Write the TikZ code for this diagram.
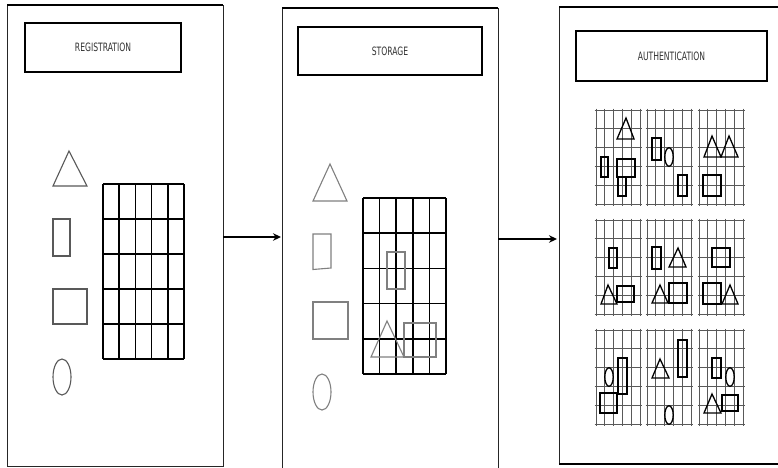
\documentclass[tikz,border=0pt]{standalone}
\usepackage{fontspec}
\newfontfamily\lblfont{DejaVu Sans Condensed}
\usetikzlibrary{arrows.meta}
\tikzset{
  panel/.style={draw=black!85, line width=1pt},
  paneltop/.style={draw=black, line width=1.8pt},
  titlebox/.style={draw=black, line width=1.3pt, font=\lblfont\fontsize{11.5}{12}\selectfont, text=black!80, inner sep=0pt},
  bigshape/.style={draw=black!65, line width=1.1pt},
  grayshape/.style={draw=black!50, line width=1.1pt},
  biggrid/.style={draw=black, line width=1.5pt},
  smallgrid/.style={draw=black!65, line width=0.9pt},
  minishape/.style={draw=black, line width=1.3pt},
  flow/.style={-{Stealth[length=8pt,width=7.5pt]}, line width=1.5pt}
}
\newcommand\narrow[1]{\scalebox{0.74}[1]{#1}}
\newcommand\minigrid{%
  \foreach \i in {0,...,5} {%
    \draw[smallgrid] (\i*8.8,-1.5) -- (\i*8.8,95.5);
    \draw[smallgrid] (-1.5,\i*18.8) -- (45.5,\i*18.8);
  }%
}
\newcommand\mtri[5]{\draw[minishape] (#1,#2) -- (#4,#5) -- (#3,#5) -- cycle;}
\newcommand\mrect[4]{\draw[minishape] (#1,#2) rectangle (#3,#4);}
\newcommand\mell[2]{\draw[minishape] (#1,#2) ellipse [x radius=4.2, y radius=9.3];}
\begin{document}
\begin{tikzpicture}[x=1pt,y=-1pt]
\useasboundingbox (0,0) rectangle (778,467);
\fill[white] (0,0) rectangle (778,467);

% ---------- panel 1 ----------
\draw[panel] (7,5) -- (7,466) -- (223,466) -- (223,5);
\draw[paneltop] (7,5) -- (223,5);
\node[titlebox, minimum width=156pt, minimum height=49pt] (reg) at (103,47.5) {\narrow{REGISTRATION}};
\draw[bigshape] (69,151) -- (87,186) -- (53,186) -- cycle;
\draw[bigshape] (53,219) rectangle (70,256);
\draw[bigshape] (53,289) rectangle (87,324);
\draw[bigshape] (62,377) ellipse [x radius=9, y radius=18];
\foreach \i in {0,...,5} {
  \draw[biggrid] (103+\i*16.2,184) -- (103+\i*16.2,359);
  \draw[biggrid] (103,184+\i*35) -- (184,184+\i*35);
}

% ---------- panel 2 ----------
\draw[panel] (282,470) -- (282,8) -- (498,8) -- (498,470);
\draw[paneltop] (282,8) -- (498,8);
\node[titlebox, minimum width=184pt, minimum height=48pt] (sto) at (390,51) {\narrow{STORAGE}};
\draw[grayshape] (330,164) -- (347,201) -- (313,201) -- cycle;
\draw[grayshape] (313,234) -- (331,234) -- (331,268) -- (313,269.5) -- cycle;
\draw[grayshape] (313,302) rectangle (348,339);
\draw[grayshape] (322,392) ellipse [x radius=9, y radius=18];
\foreach \i in {0,...,5} {
  \draw[biggrid] (363+\i*16.6,198) -- (363+\i*16.6,374);
  \draw[biggrid] (363,198+\i*35.2) -- (446,198+\i*35.2);
}
\draw[grayshape] (387,252) rectangle (405,289);
\draw[grayshape] (387,321) -- (404,357) -- (371,357) -- cycle;
\draw[grayshape] (404,323) rectangle (436,357);

% ---------- panel 3 ----------
\draw[panel] (790,464) -- (559,464) -- (559,7) -- (790,7);
\draw[paneltop] (559,7) -- (790,7);
\draw[paneltop] (559,464) -- (790,464);
\node[titlebox, minimum width=191pt, minimum height=50pt] (aut) at (671.5,56) {\narrow{AUTHENTICATION}};

\begin{scope}[shift={(596,110)}]
  \minigrid
  \mtri{30}{8}{21}{38}{29}
  \mrect{5}{47}{12}{67}
  \mrect{21}{49}{39}{67}
  \mrect{22}{67}{30}{86}
\end{scope}
\begin{scope}[shift={(647,110)}]
  \minigrid
  \mrect{5}{28}{14}{50}
  \mell{22}{47}
  \mrect{31}{65}{40}{86}
\end{scope}
\begin{scope}[shift={(699,110)}]
  \minigrid
  \mtri{13}{26}{5}{22}{47}
  \mtri{30}{26}{22}{39}{47}
  \mrect{4}{65}{22}{86}
\end{scope}

\begin{scope}[shift={(596,220)}]
  \minigrid
  \mrect{13}{28}{21}{48}
  \mtri{12}{65}{5}{21}{84}
  \mrect{21}{66}{38}{82}
\end{scope}
\begin{scope}[shift={(647,220)}]
  \minigrid
  \mrect{5}{27}{14}{49}
  \mtri{31}{28}{22}{39}{47}
  \mtri{13}{65}{5}{21}{83}
  \mrect{22}{63}{40}{83}
\end{scope}
\begin{scope}[shift={(699,220)}]
  \minigrid
  \mrect{13}{28}{31}{47}
  \mrect{4}{63}{22}{84}
  \mtri{31}{65}{23}{39}{84}
\end{scope}

\begin{scope}[shift={(596,330)}]
  \minigrid
  \mell{13}{47}
  \mrect{22}{28}{31}{64}
  \mrect{4}{63}{21}{83}
\end{scope}
\begin{scope}[shift={(647,330)}]
  \minigrid
  \mtri{13}{29}{5}{22}{48}
  \mrect{31}{10}{40}{47}
  \mell{22}{85}
\end{scope}
\begin{scope}[shift={(699,330)}]
  \minigrid
  \mrect{13}{28}{22}{48}
  \mell{31}{47}
  \mtri{13}{64}{5}{22}{83}
  \mrect{23}{65}{39}{81}
\end{scope}

% ---------- arrows ----------
\coordinate (a1s) at (223,237);
\coordinate (a1e) at (281,237);
\coordinate (a2s) at (498,239);
\coordinate (a2e) at (557,239);
\draw[flow] (a1s) -- (a1e);
\draw[flow] (a2s) -- (a2e);
\end{tikzpicture}
\end{document}
